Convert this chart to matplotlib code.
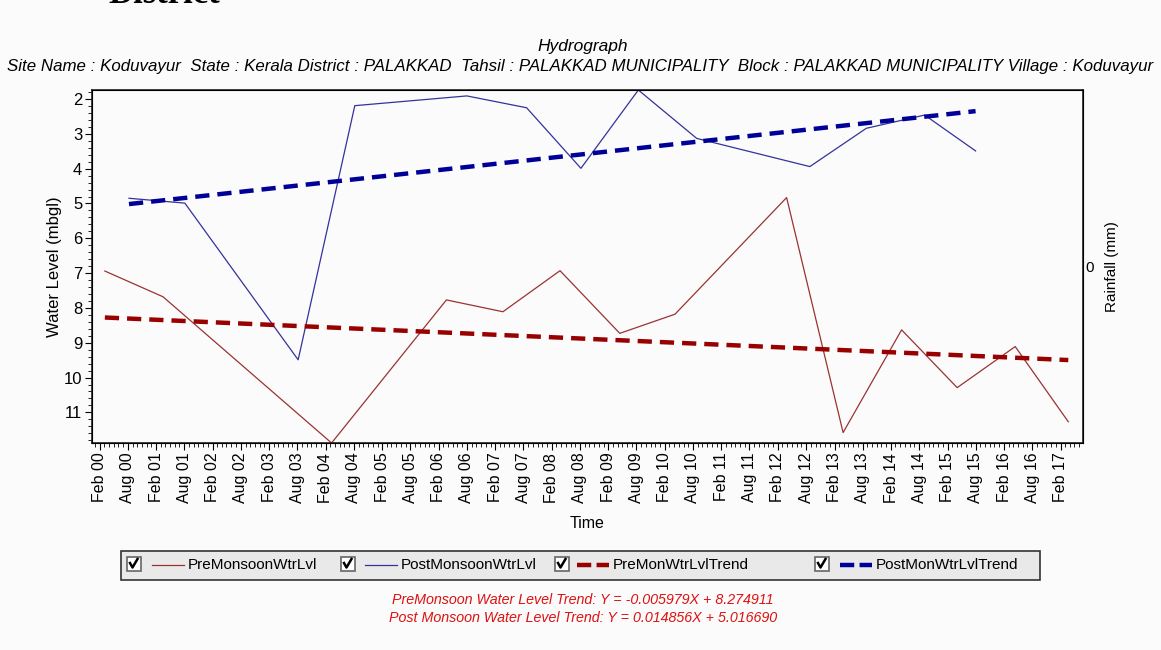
import matplotlib
matplotlib.use("Agg")
import matplotlib.pyplot as plt
import matplotlib.dates as mdates
import numpy as np
import pandas as pd
from matplotlib.lines import Line2D
from matplotlib.patches import Rectangle
from matplotlib.ticker import MultipleLocator

plt.rcParams["font.family"] = ["Liberation Sans", "DejaVu Sans"]

# Observed water levels (metres below ground level)
pre_dates = ["2000-03-06", "2001-03-17", "2004-03-10", "2006-03-22", "2007-03-22",
             "2008-03-25", "2009-04-15", "2010-04-07", "2012-03-28", "2013-03-28",
             "2014-04-10", "2015-04-04", "2016-04-13", "2017-03-22"]
pre_level = [6.94, 7.68, 11.88, 7.77, 8.11, 6.93, 8.73, 8.18, 4.83, 11.58,
             8.63, 10.29, 9.11, 11.27]

post_dates = ["2000-08-09", "2001-08-05", "2003-08-07", "2004-08-07", "2006-08-01",
              "2007-08-22", "2008-08-07", "2009-08-13", "2010-08-25", "2012-08-25",
              "2013-08-25", "2014-09-06", "2015-08-01"]
post_level = [4.85, 4.99, 9.49, 2.19, 1.91, 2.25, 3.99, 1.74, 3.13, 3.94,
              2.84, 2.46, 3.49]

# Linear trend coefficients, X = months since first observation
pre_slope, pre_icpt = -0.005979, 8.274911
post_slope, post_icpt = 0.014856, 5.016690

subtitle = ("Site Name : Koduvayur  State : Kerala District : PALAKKAD  "
            "Tahsil : PALAKKAD MUNICIPALITY  Block : PALAKKAD MUNICIPALITY "
            "Village : Koduvayur")
legend_labels = ["PreMonsoonWtrLvl", "PostMonsoonWtrLvl",
                 "PreMonWtrLvlTrend", "PostMonWtrLvlTrend"]

PRE_C = "#993333"
POST_C = "#333399"
PRE_TREND_C = "#990000"
POST_TREND_C = "#000099"
BG = "#fbfbfb"

W, H = 1161, 650


def fx(x):
    return x / W


def fy(y):
    return 1 - y / H


def trend(dates, slope, icpt):
    d = pd.to_datetime(dates)
    t = pd.date_range(d[0], d[-1], freq="7D").append(pd.DatetimeIndex([d[-1]]))
    months = (t - d[0]).days / 30.4375
    return t, icpt - slope * months


fig = plt.figure(figsize=(W / 100, H / 100), dpi=100, facecolor=BG)
ax = fig.add_axes([fx(92), fy(443), fx(1083) - fx(92), fy(90) - fy(443)])
ax.set_facecolor(BG)

pre_t = pd.to_datetime(pre_dates)
post_t = pd.to_datetime(post_dates)
ax.plot(pre_t, pre_level, color=PRE_C, lw=0.9)
ax.plot(post_t, post_level, color=POST_C, lw=0.9)
tt, tv = trend(pre_dates, pre_slope, pre_icpt)
ax.plot(tt, tv, color=PRE_TREND_C, lw=3.2, dashes=(3.2, 1.8))
tt, tv = trend(post_dates, post_slope, post_icpt)
ax.plot(tt, tv, color=POST_TREND_C, lw=3.2, dashes=(3.2, 1.8))

ax.set_ylim(max(pre_level), min(post_level))
ax.set_xlim(pd.Timestamp("1999-12-14"), pd.Timestamp("2017-06-25"))
ax.yaxis.set_major_locator(MultipleLocator(1))
ax.yaxis.set_minor_locator(MultipleLocator(0.2))
ax.xaxis.set_major_locator(mdates.MonthLocator(bymonth=[2, 8]))
ax.xaxis.set_minor_locator(mdates.MonthLocator())
ax.xaxis.set_major_formatter(mdates.DateFormatter("%b %y"))
ax.tick_params(axis="x", which="major", labelrotation=90, labelsize=11.5, length=5, pad=2)
ax.tick_params(axis="y", which="major", labelsize=12, length=5, pad=2)
ax.tick_params(which="minor", length=3)
for s in ax.spines.values():
    s.set_linewidth(1.2)
    s.set_color("#222222")
ax.set_ylabel("Water Level (mbgl)", fontsize=12, labelpad=1)
ax.set_xlabel("Time", fontsize=11.5, labelpad=9)

# empty rainfall axis on the right
ax2 = ax.twinx()
ax2.set_ylim(-1, 1)
ax2.set_yticks([0])
ax2.tick_params(axis="y", length=0, labelsize=11, pad=2)
ax2.set_ylabel("Rainfall (mm)", fontsize=11, labelpad=8)

# headings
fig.text(fx(108), fy(3), "District", fontsize=25, fontweight="bold",
         family="Liberation Serif", va="baseline")
fig.text(fx(583), fy(46), "Hydrograph", fontsize=12.5, style="italic",
         ha="center", va="center")
fig.text(fx(7), fy(66), subtitle, fontsize=12.2, style="italic", ha="left", va="center")

# legend strip with check boxes
fig.patches.append(Rectangle((fx(121), fy(580)), fx(1040) - fx(121), fy(551) - fy(580),
                             transform=fig.transFigure, facecolor="#e9e9e9",
                             edgecolor="#333333", lw=1.2))
items = [(127, 152, PRE_C, 0.9, None),
         (341, 365, POST_C, 0.9, None),
         (555, 577, PRE_TREND_C, 3.2, (3.2, 1.2)),
         (815, 840, POST_TREND_C, 3.2, (3.2, 1.2))]
for (bx, lx, c, lw, dash), lab in zip(items, legend_labels):
    fig.patches.append(Rectangle((fx(bx), fy(571)), fx(14), fy(557) - fy(571),
                                 transform=fig.transFigure, facecolor="white",
                                 edgecolor="#666666", lw=1.2))
    fig.lines.append(Line2D([fx(bx + 3), fx(bx + 5.5), fx(bx + 10.5)],
                            [fy(563), fy(567.5), fy(559)], transform=fig.transFigure,
                            color="black", lw=1.8))
    kw = dict(dashes=dash) if dash else {}
    fig.lines.append(Line2D([fx(lx), fx(lx + 32)], [fy(565), fy(565)],
                            transform=fig.transFigure, color=c, lw=lw, **kw))
    fig.text(fx(lx + 36), fy(565), lab, fontsize=11, va="center", ha="left")

fig.text(fx(583), fy(600),
         f"PreMonsoon Water Level Trend: Y = {pre_slope:.6f}X + {pre_icpt:.6f}",
         color="#dd1111", fontsize=10.3, style="italic", ha="center", va="center")
fig.text(fx(583), fy(618),
         f"Post Monsoon Water Level Trend: Y = {post_slope:.6f}X + {post_icpt:.6f}",
         color="#dd1111", fontsize=10.3, style="italic", ha="center", va="center")

fig.savefig("out.png", dpi=100, facecolor=BG)
